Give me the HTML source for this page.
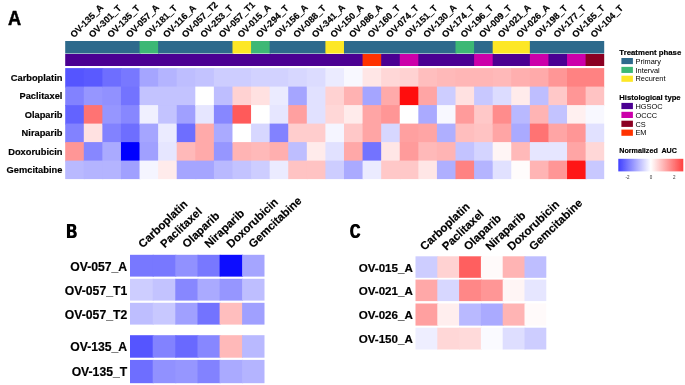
<!DOCTYPE html>
<html><head><meta charset="utf-8"><title>Figure</title>
<style>
html,body{margin:0;padding:0;background:#fff;}
body{width:685px;height:385px;overflow:hidden;}
svg{display:block;}
text{font-family:"Liberation Sans",Arial,sans-serif;fill:#000;}
.b{font-weight:bold;stroke:#000;stroke-width:0.18px;}
.bl{font-weight:bold;stroke:none;}
</style></head><body>
<svg width="685" height="385" viewBox="0 0 685 385">
<rect x="0" y="0" width="685" height="385" fill="#fff"/>
<defs><filter id="soft" x="0" y="0" width="685" height="385" filterUnits="userSpaceOnUse"><feGaussianBlur stdDeviation="0.38"/></filter></defs>
<defs><filter id="fat" x="-20%" y="-20%" width="140%" height="140%"><feOffset in="SourceGraphic" dx="0.8" dy="0" result="o"/><feMerge><feMergeNode in="SourceGraphic"/><feMergeNode in="o"/></feMerge></filter></defs>
<g filter="url(#soft)">
<rect x="-5" y="-5" width="695" height="395" fill="#fff"/>
<g>
<rect x="65.20" y="41.0" width="75.34" height="12.5" fill="#2d6a8c"/>
<rect x="139.54" y="41.0" width="19.59" height="12.5" fill="#3cb875"/>
<rect x="158.13" y="41.0" width="75.34" height="12.5" fill="#2d6a8c"/>
<rect x="232.48" y="41.0" width="19.59" height="12.5" fill="#fde725"/>
<rect x="251.06" y="41.0" width="19.59" height="12.5" fill="#3cb875"/>
<rect x="269.65" y="41.0" width="56.76" height="12.5" fill="#2d6a8c"/>
<rect x="325.41" y="41.0" width="19.59" height="12.5" fill="#fde725"/>
<rect x="343.99" y="41.0" width="112.52" height="12.5" fill="#2d6a8c"/>
<rect x="455.51" y="41.0" width="19.59" height="12.5" fill="#3cb875"/>
<rect x="474.10" y="41.0" width="19.59" height="12.5" fill="#2d6a8c"/>
<rect x="492.68" y="41.0" width="38.17" height="12.5" fill="#fde725"/>
<rect x="529.86" y="41.0" width="74.34" height="12.5" fill="#2d6a8c"/>
<rect x="65.20" y="54" width="298.38" height="12" fill="#4b0092"/>
<rect x="362.58" y="54" width="19.59" height="12" fill="#ff3300"/>
<rect x="381.17" y="54" width="19.59" height="12" fill="#4b0092"/>
<rect x="399.75" y="54" width="19.59" height="12" fill="#cc00aa"/>
<rect x="418.34" y="54" width="56.76" height="12" fill="#4b0092"/>
<rect x="474.10" y="54" width="19.59" height="12" fill="#cc00aa"/>
<rect x="492.68" y="54" width="38.17" height="12" fill="#4b0092"/>
<rect x="529.86" y="54" width="19.59" height="12" fill="#cc00aa"/>
<rect x="548.44" y="54" width="19.59" height="12" fill="#4b0092"/>
<rect x="567.03" y="54" width="19.59" height="12" fill="#cc00aa"/>
<rect x="585.61" y="54" width="18.59" height="12" fill="#8b0020"/>
<rect x="65.20" y="68.10" width="19.59" height="19.50" fill="#5555ff"/>
<rect x="65.20" y="86.60" width="19.59" height="19.50" fill="#8282ff"/>
<rect x="65.20" y="105.10" width="19.59" height="19.50" fill="#6464ff"/>
<rect x="65.20" y="123.60" width="19.59" height="19.50" fill="#8282ff"/>
<rect x="65.20" y="142.10" width="19.59" height="19.50" fill="#ff9696"/>
<rect x="65.20" y="160.60" width="19.59" height="18.50" fill="#b9b9ff"/>
<rect x="83.79" y="68.10" width="19.59" height="19.50" fill="#5a5aff"/>
<rect x="83.79" y="86.60" width="19.59" height="19.50" fill="#9696ff"/>
<rect x="83.79" y="105.10" width="19.59" height="19.50" fill="#ff7373"/>
<rect x="83.79" y="123.60" width="19.59" height="19.50" fill="#ffe1e1"/>
<rect x="83.79" y="142.10" width="19.59" height="19.50" fill="#8787ff"/>
<rect x="83.79" y="160.60" width="19.59" height="18.50" fill="#b4b4ff"/>
<rect x="102.37" y="68.10" width="19.59" height="19.50" fill="#6e6eff"/>
<rect x="102.37" y="86.60" width="19.59" height="19.50" fill="#9191ff"/>
<rect x="102.37" y="105.10" width="19.59" height="19.50" fill="#9696ff"/>
<rect x="102.37" y="123.60" width="19.59" height="19.50" fill="#8282ff"/>
<rect x="102.37" y="142.10" width="19.59" height="19.50" fill="#aaaaff"/>
<rect x="102.37" y="160.60" width="19.59" height="18.50" fill="#b4b4ff"/>
<rect x="120.96" y="68.10" width="19.59" height="19.50" fill="#7878ff"/>
<rect x="120.96" y="86.60" width="19.59" height="19.50" fill="#7373ff"/>
<rect x="120.96" y="105.10" width="19.59" height="19.50" fill="#8787ff"/>
<rect x="120.96" y="123.60" width="19.59" height="19.50" fill="#6e6eff"/>
<rect x="120.96" y="142.10" width="19.59" height="19.50" fill="#0505ff"/>
<rect x="120.96" y="160.60" width="19.59" height="18.50" fill="#a0a0ff"/>
<rect x="139.54" y="68.10" width="19.59" height="19.50" fill="#a5a5ff"/>
<rect x="139.54" y="86.60" width="19.59" height="19.50" fill="#c3c3ff"/>
<rect x="139.54" y="105.10" width="19.59" height="19.50" fill="#f0f0ff"/>
<rect x="139.54" y="123.60" width="19.59" height="19.50" fill="#a5a5ff"/>
<rect x="139.54" y="142.10" width="19.59" height="19.50" fill="#a0a0ff"/>
<rect x="139.54" y="160.60" width="19.59" height="18.50" fill="#f5f5ff"/>
<rect x="158.13" y="68.10" width="19.59" height="19.50" fill="#b4b4ff"/>
<rect x="158.13" y="86.60" width="19.59" height="19.50" fill="#c3c3ff"/>
<rect x="158.13" y="105.10" width="19.59" height="19.50" fill="#c3c3ff"/>
<rect x="158.13" y="123.60" width="19.59" height="19.50" fill="#ebebff"/>
<rect x="158.13" y="142.10" width="19.59" height="19.50" fill="#e6e6ff"/>
<rect x="158.13" y="160.60" width="19.59" height="18.50" fill="#ffebeb"/>
<rect x="176.72" y="68.10" width="19.59" height="19.50" fill="#bebeff"/>
<rect x="176.72" y="86.60" width="19.59" height="19.50" fill="#c3c3ff"/>
<rect x="176.72" y="105.10" width="19.59" height="19.50" fill="#a0a0ff"/>
<rect x="176.72" y="123.60" width="19.59" height="19.50" fill="#6e6eff"/>
<rect x="176.72" y="142.10" width="19.59" height="19.50" fill="#ffb9b9"/>
<rect x="176.72" y="160.60" width="19.59" height="18.50" fill="#a5a5ff"/>
<rect x="195.30" y="68.10" width="19.59" height="19.50" fill="#c3c3ff"/>
<rect x="195.30" y="86.60" width="19.59" height="19.50" fill="#ffffff"/>
<rect x="195.30" y="105.10" width="19.59" height="19.50" fill="#e6e6ff"/>
<rect x="195.30" y="123.60" width="19.59" height="19.50" fill="#ffaaaa"/>
<rect x="195.30" y="142.10" width="19.59" height="19.50" fill="#ffaaaa"/>
<rect x="195.30" y="160.60" width="19.59" height="18.50" fill="#a5a5ff"/>
<rect x="213.89" y="68.10" width="19.59" height="19.50" fill="#cdcdff"/>
<rect x="213.89" y="86.60" width="19.59" height="19.50" fill="#bebeff"/>
<rect x="213.89" y="105.10" width="19.59" height="19.50" fill="#8787ff"/>
<rect x="213.89" y="123.60" width="19.59" height="19.50" fill="#aaaaff"/>
<rect x="213.89" y="142.10" width="19.59" height="19.50" fill="#9696ff"/>
<rect x="213.89" y="160.60" width="19.59" height="18.50" fill="#b9b9ff"/>
<rect x="232.48" y="68.10" width="19.59" height="19.50" fill="#cdcdff"/>
<rect x="232.48" y="86.60" width="19.59" height="19.50" fill="#ffd2d2"/>
<rect x="232.48" y="105.10" width="19.59" height="19.50" fill="#ff5a5a"/>
<rect x="232.48" y="123.60" width="19.59" height="19.50" fill="#ffffff"/>
<rect x="232.48" y="142.10" width="19.59" height="19.50" fill="#ffb4b4"/>
<rect x="232.48" y="160.60" width="19.59" height="18.50" fill="#c3c3ff"/>
<rect x="251.06" y="68.10" width="19.59" height="19.50" fill="#d2d2ff"/>
<rect x="251.06" y="86.60" width="19.59" height="19.50" fill="#ffe1e1"/>
<rect x="251.06" y="105.10" width="19.59" height="19.50" fill="#ffffff"/>
<rect x="251.06" y="123.60" width="19.59" height="19.50" fill="#d7d7ff"/>
<rect x="251.06" y="142.10" width="19.59" height="19.50" fill="#ffb9b9"/>
<rect x="251.06" y="160.60" width="19.59" height="18.50" fill="#cdcdff"/>
<rect x="269.65" y="68.10" width="19.59" height="19.50" fill="#d2d2ff"/>
<rect x="269.65" y="86.60" width="19.59" height="19.50" fill="#ebebff"/>
<rect x="269.65" y="105.10" width="19.59" height="19.50" fill="#e6e6ff"/>
<rect x="269.65" y="123.60" width="19.59" height="19.50" fill="#8282ff"/>
<rect x="269.65" y="142.10" width="19.59" height="19.50" fill="#ffafaf"/>
<rect x="269.65" y="160.60" width="19.59" height="18.50" fill="#ebebff"/>
<rect x="288.23" y="68.10" width="19.59" height="19.50" fill="#d7d7ff"/>
<rect x="288.23" y="86.60" width="19.59" height="19.50" fill="#a5a5ff"/>
<rect x="288.23" y="105.10" width="19.59" height="19.50" fill="#ffa0a0"/>
<rect x="288.23" y="123.60" width="19.59" height="19.50" fill="#ffcdcd"/>
<rect x="288.23" y="142.10" width="19.59" height="19.50" fill="#bebeff"/>
<rect x="288.23" y="160.60" width="19.59" height="18.50" fill="#ffc3c3"/>
<rect x="306.82" y="68.10" width="19.59" height="19.50" fill="#dcdcff"/>
<rect x="306.82" y="86.60" width="19.59" height="19.50" fill="#e1e1ff"/>
<rect x="306.82" y="105.10" width="19.59" height="19.50" fill="#e1e1ff"/>
<rect x="306.82" y="123.60" width="19.59" height="19.50" fill="#ffcdcd"/>
<rect x="306.82" y="142.10" width="19.59" height="19.50" fill="#ffebeb"/>
<rect x="306.82" y="160.60" width="19.59" height="18.50" fill="#ffc3c3"/>
<rect x="325.41" y="68.10" width="19.59" height="19.50" fill="#ebebff"/>
<rect x="325.41" y="86.60" width="19.59" height="19.50" fill="#ffd2d2"/>
<rect x="325.41" y="105.10" width="19.59" height="19.50" fill="#ffd7d7"/>
<rect x="325.41" y="123.60" width="19.59" height="19.50" fill="#f5f5ff"/>
<rect x="325.41" y="142.10" width="19.59" height="19.50" fill="#e1e1ff"/>
<rect x="325.41" y="160.60" width="19.59" height="18.50" fill="#cdcdff"/>
<rect x="343.99" y="68.10" width="19.59" height="19.50" fill="#f8f8ff"/>
<rect x="343.99" y="86.60" width="19.59" height="19.50" fill="#ffb2b2"/>
<rect x="343.99" y="105.10" width="19.59" height="19.50" fill="#ffebeb"/>
<rect x="343.99" y="123.60" width="19.59" height="19.50" fill="#ffc8c8"/>
<rect x="343.99" y="142.10" width="19.59" height="19.50" fill="#ffa8a8"/>
<rect x="343.99" y="160.60" width="19.59" height="18.50" fill="#aaaaff"/>
<rect x="362.58" y="68.10" width="19.59" height="19.50" fill="#ffe6e6"/>
<rect x="362.58" y="86.60" width="19.59" height="19.50" fill="#a5a5ff"/>
<rect x="362.58" y="105.10" width="19.59" height="19.50" fill="#ffa5a5"/>
<rect x="362.58" y="123.60" width="19.59" height="19.50" fill="#ffa5a5"/>
<rect x="362.58" y="142.10" width="19.59" height="19.50" fill="#7373ff"/>
<rect x="362.58" y="160.60" width="19.59" height="18.50" fill="#ebebff"/>
<rect x="381.17" y="68.10" width="19.59" height="19.50" fill="#ffd7d7"/>
<rect x="381.17" y="86.60" width="19.59" height="19.50" fill="#ffaaaa"/>
<rect x="381.17" y="105.10" width="19.59" height="19.50" fill="#ff9696"/>
<rect x="381.17" y="123.60" width="19.59" height="19.50" fill="#d7d7ff"/>
<rect x="381.17" y="142.10" width="19.59" height="19.50" fill="#ffe6e6"/>
<rect x="381.17" y="160.60" width="19.59" height="18.50" fill="#ffc8c8"/>
<rect x="399.75" y="68.10" width="19.59" height="19.50" fill="#ffd2d2"/>
<rect x="399.75" y="86.60" width="19.59" height="19.50" fill="#ff0f0f"/>
<rect x="399.75" y="105.10" width="19.59" height="19.50" fill="#ffffff"/>
<rect x="399.75" y="123.60" width="19.59" height="19.50" fill="#ffa0a0"/>
<rect x="399.75" y="142.10" width="19.59" height="19.50" fill="#ff9b9b"/>
<rect x="399.75" y="160.60" width="19.59" height="18.50" fill="#ffc8c8"/>
<rect x="418.34" y="68.10" width="19.59" height="19.50" fill="#ffbebe"/>
<rect x="418.34" y="86.60" width="19.59" height="19.50" fill="#ffa5a5"/>
<rect x="418.34" y="105.10" width="19.59" height="19.50" fill="#aaaaff"/>
<rect x="418.34" y="123.60" width="19.59" height="19.50" fill="#ffa5a5"/>
<rect x="418.34" y="142.10" width="19.59" height="19.50" fill="#ffb9b9"/>
<rect x="418.34" y="160.60" width="19.59" height="18.50" fill="#ffe6e6"/>
<rect x="436.92" y="68.10" width="19.59" height="19.50" fill="#ffb9b9"/>
<rect x="436.92" y="86.60" width="19.59" height="19.50" fill="#cdcdff"/>
<rect x="436.92" y="105.10" width="19.59" height="19.50" fill="#f8f8ff"/>
<rect x="436.92" y="123.60" width="19.59" height="19.50" fill="#afafff"/>
<rect x="436.92" y="142.10" width="19.59" height="19.50" fill="#ffb4b4"/>
<rect x="436.92" y="160.60" width="19.59" height="18.50" fill="#afafff"/>
<rect x="455.51" y="68.10" width="19.59" height="19.50" fill="#ffb6b6"/>
<rect x="455.51" y="86.60" width="19.59" height="19.50" fill="#ffe1e1"/>
<rect x="455.51" y="105.10" width="19.59" height="19.50" fill="#ff9b9b"/>
<rect x="455.51" y="123.60" width="19.59" height="19.50" fill="#ffbebe"/>
<rect x="455.51" y="142.10" width="19.59" height="19.50" fill="#c3c3ff"/>
<rect x="455.51" y="160.60" width="19.59" height="18.50" fill="#ff8282"/>
<rect x="474.10" y="68.10" width="19.59" height="19.50" fill="#ffb6b6"/>
<rect x="474.10" y="86.60" width="19.59" height="19.50" fill="#c8c8ff"/>
<rect x="474.10" y="105.10" width="19.59" height="19.50" fill="#ffc8c8"/>
<rect x="474.10" y="123.60" width="19.59" height="19.50" fill="#ffc3c3"/>
<rect x="474.10" y="142.10" width="19.59" height="19.50" fill="#d4d4ff"/>
<rect x="474.10" y="160.60" width="19.59" height="18.50" fill="#b4b4ff"/>
<rect x="492.68" y="68.10" width="19.59" height="19.50" fill="#ffb9b9"/>
<rect x="492.68" y="86.60" width="19.59" height="19.50" fill="#dcdcff"/>
<rect x="492.68" y="105.10" width="19.59" height="19.50" fill="#ff8c8c"/>
<rect x="492.68" y="123.60" width="19.59" height="19.50" fill="#ffa5a5"/>
<rect x="492.68" y="142.10" width="19.59" height="19.50" fill="#fff5f5"/>
<rect x="492.68" y="160.60" width="19.59" height="18.50" fill="#e1e1ff"/>
<rect x="511.27" y="68.10" width="19.59" height="19.50" fill="#ffafaf"/>
<rect x="511.27" y="86.60" width="19.59" height="19.50" fill="#ffebeb"/>
<rect x="511.27" y="105.10" width="19.59" height="19.50" fill="#b9b9ff"/>
<rect x="511.27" y="123.60" width="19.59" height="19.50" fill="#aaaaff"/>
<rect x="511.27" y="142.10" width="19.59" height="19.50" fill="#ffb9b9"/>
<rect x="511.27" y="160.60" width="19.59" height="18.50" fill="#fffcfc"/>
<rect x="529.86" y="68.10" width="19.59" height="19.50" fill="#ffaaaa"/>
<rect x="529.86" y="86.60" width="19.59" height="19.50" fill="#bebeff"/>
<rect x="529.86" y="105.10" width="19.59" height="19.50" fill="#ffb4b4"/>
<rect x="529.86" y="123.60" width="19.59" height="19.50" fill="#ff7373"/>
<rect x="529.86" y="142.10" width="19.59" height="19.50" fill="#e6e6ff"/>
<rect x="529.86" y="160.60" width="19.59" height="18.50" fill="#ffb4b4"/>
<rect x="548.44" y="68.10" width="19.59" height="19.50" fill="#ff9696"/>
<rect x="548.44" y="86.60" width="19.59" height="19.50" fill="#ffc8c8"/>
<rect x="548.44" y="105.10" width="19.59" height="19.50" fill="#c3c3ff"/>
<rect x="548.44" y="123.60" width="19.59" height="19.50" fill="#ffa5a5"/>
<rect x="548.44" y="142.10" width="19.59" height="19.50" fill="#e6e6ff"/>
<rect x="548.44" y="160.60" width="19.59" height="18.50" fill="#ff9696"/>
<rect x="567.03" y="68.10" width="19.59" height="19.50" fill="#ff8282"/>
<rect x="567.03" y="86.60" width="19.59" height="19.50" fill="#ff9696"/>
<rect x="567.03" y="105.10" width="19.59" height="19.50" fill="#fff0f0"/>
<rect x="567.03" y="123.60" width="19.59" height="19.50" fill="#ff9696"/>
<rect x="567.03" y="142.10" width="19.59" height="19.50" fill="#ffa5a5"/>
<rect x="567.03" y="160.60" width="19.59" height="18.50" fill="#ff1919"/>
<rect x="585.61" y="68.10" width="18.59" height="19.50" fill="#ff8282"/>
<rect x="585.61" y="86.60" width="18.59" height="19.50" fill="#ffc3c3"/>
<rect x="585.61" y="105.10" width="18.59" height="19.50" fill="#f8f8ff"/>
<rect x="585.61" y="123.60" width="18.59" height="19.50" fill="#e1e1ff"/>
<rect x="585.61" y="142.10" width="18.59" height="19.50" fill="#ffd7d7"/>
<rect x="585.61" y="160.60" width="18.59" height="18.50" fill="#c8c8ff"/>
</g>
<text class="bl" style="stroke:#000;stroke-width:0.5px" font-size="19.8" transform="translate(7.9,24.8) scale(0.92,1)">A</text>
<text class="b" font-size="9.9" text-anchor="end" transform="translate(62.4,80.90) scale(0.94,1)">Carboplatin</text>
<text class="b" font-size="9.9" text-anchor="end" transform="translate(62.4,99.40) scale(0.94,1)">Paclitaxel</text>
<text class="b" font-size="9.9" text-anchor="end" transform="translate(62.4,117.90) scale(0.94,1)">Olaparib</text>
<text class="b" font-size="9.9" text-anchor="end" transform="translate(62.4,136.40) scale(0.94,1)">Niraparib</text>
<text class="b" font-size="9.9" text-anchor="end" transform="translate(62.4,154.90) scale(0.94,1)">Doxorubicin</text>
<text class="b" font-size="9.9" text-anchor="end" transform="translate(62.4,173.40) scale(0.94,1)">Gemcitabine</text>
<text class="b" font-size="9.15" transform="translate(73.89,38.30) rotate(-45)">OV-135_A</text>
<text class="b" font-size="9.15" transform="translate(92.48,38.30) rotate(-45)">OV-301_T</text>
<text class="b" font-size="9.15" transform="translate(111.07,38.30) rotate(-45)">OV-135_T</text>
<text class="b" font-size="9.15" transform="translate(129.65,38.30) rotate(-45)">OV-057_A</text>
<text class="b" font-size="9.15" transform="translate(148.24,38.30) rotate(-45)">OV-181_T</text>
<text class="b" font-size="9.15" transform="translate(166.82,38.30) rotate(-45)">OV-116_A</text>
<text class="b" font-size="9.15" transform="translate(185.41,38.30) rotate(-45)">OV-057_T2</text>
<text class="b" font-size="9.15" transform="translate(204.00,38.30) rotate(-45)">OV-253_T</text>
<text class="b" font-size="9.15" transform="translate(222.58,38.30) rotate(-45)">OV-057_T1</text>
<text class="b" font-size="9.15" transform="translate(241.17,38.30) rotate(-45)">OV-015_A</text>
<text class="b" font-size="9.15" transform="translate(259.76,38.30) rotate(-45)">OV-294_T</text>
<text class="b" font-size="9.15" transform="translate(278.34,38.30) rotate(-45)">OV-156_A</text>
<text class="b" font-size="9.15" transform="translate(296.93,38.30) rotate(-45)">OV-088_T</text>
<text class="b" font-size="9.15" transform="translate(315.51,38.30) rotate(-45)">OV-341_A</text>
<text class="b" font-size="9.15" transform="translate(334.10,38.30) rotate(-45)">OV-150_A</text>
<text class="b" font-size="9.15" transform="translate(352.69,38.30) rotate(-45)">OV-086_A</text>
<text class="b" font-size="9.15" transform="translate(371.27,38.30) rotate(-45)">OV-160_T</text>
<text class="b" font-size="9.15" transform="translate(389.86,38.30) rotate(-45)">OV-074_T</text>
<text class="b" font-size="9.15" transform="translate(408.44,38.30) rotate(-45)">OV-151_T</text>
<text class="b" font-size="9.15" transform="translate(427.03,38.30) rotate(-45)">OV-130_A</text>
<text class="b" font-size="9.15" transform="translate(445.62,38.30) rotate(-45)">OV-174_T</text>
<text class="b" font-size="9.15" transform="translate(464.20,38.30) rotate(-45)">OV-196_T</text>
<text class="b" font-size="9.15" transform="translate(482.79,38.30) rotate(-45)">OV-009_T</text>
<text class="b" font-size="9.15" transform="translate(501.38,38.30) rotate(-45)">OV-021_A</text>
<text class="b" font-size="9.15" transform="translate(519.96,38.30) rotate(-45)">OV-026_A</text>
<text class="b" font-size="9.15" transform="translate(538.55,38.30) rotate(-45)">OV-198_T</text>
<text class="b" font-size="9.15" transform="translate(557.13,38.30) rotate(-45)">OV-177_T</text>
<text class="b" font-size="9.15" transform="translate(575.72,38.30) rotate(-45)">OV-165_T</text>
<text class="b" font-size="9.15" transform="translate(594.31,38.30) rotate(-45)">OV-104_T</text>
<text class="b" x="619.3" y="54.5" font-size="8.1" textLength="62" lengthAdjust="spacingAndGlyphs">Treatment phase</text>
<rect x="621.4" y="58.00" width="11.5" height="6.1" fill="#2d6a8c"/>
<text x="635.5" y="63.75" font-size="7.4">Primary</text>
<rect x="621.4" y="66.85" width="11.5" height="6.1" fill="#3cb875"/>
<text x="635.5" y="72.60" font-size="7.4">Interval</text>
<rect x="621.4" y="75.70" width="11.5" height="6.1" fill="#fde725"/>
<text x="635.5" y="81.45" font-size="7.4">Recurent</text>
<text class="b" x="619.3" y="99.7" font-size="8.1" textLength="61.3" lengthAdjust="spacingAndGlyphs">Histological type</text>
<rect x="621.4" y="102.90" width="11.5" height="6.2" fill="#4b0092"/>
<text x="635.4" y="108.70" font-size="7.4">HGSOC</text>
<rect x="621.4" y="111.80" width="11.5" height="6.2" fill="#cc00aa"/>
<text x="635.4" y="117.60" font-size="7.4">OCCC</text>
<rect x="621.4" y="120.70" width="11.5" height="6.2" fill="#8b0020"/>
<text x="635.4" y="126.50" font-size="7.4">CS</text>
<rect x="621.4" y="129.60" width="11.5" height="6.2" fill="#ff3300"/>
<text x="635.4" y="135.40" font-size="7.4">EM</text>
<text class="b" x="619.3" y="153.4" font-size="8.0" xml:space="preserve" textLength="57.6" lengthAdjust="spacingAndGlyphs">Normalized  AUC</text>
<defs><linearGradient id="g" x1="0" x2="1" y1="0" y2="0"><stop offset="0" stop-color="#4040ff"/><stop offset="0.5" stop-color="#ffffff"/><stop offset="1" stop-color="#ff4040"/></linearGradient></defs>
<rect x="618.3" y="158.8" width="65" height="12.6" fill="url(#g)"/>
<text x="627.6" y="178.5" font-size="4.5" fill="#333" style="fill:#333" text-anchor="middle">-2</text>
<text x="651.0" y="178.5" font-size="4.5" fill="#333" style="fill:#333" text-anchor="middle">0</text>
<text x="674.2" y="178.5" font-size="4.5" fill="#333" style="fill:#333" text-anchor="middle">2</text>
<text class="bl" filter="url(#fat)" font-size="19.4" transform="translate(66.1,237.5) scale(0.75,1)">B</text>
<g>
<rect x="130.00" y="254.80" width="23.70" height="21.80" fill="#7878ff"/>
<rect x="152.70" y="254.80" width="23.60" height="21.80" fill="#7878ff"/>
<rect x="175.30" y="254.80" width="23.20" height="21.80" fill="#9191ff"/>
<rect x="197.50" y="254.80" width="23.10" height="21.80" fill="#7878ff"/>
<rect x="219.60" y="254.80" width="23.50" height="21.80" fill="#0a0aff"/>
<rect x="242.10" y="254.80" width="22.40" height="21.80" fill="#a5a5ff"/>
<rect x="130.00" y="278.80" width="23.70" height="21.80" fill="#cdcdff"/>
<rect x="152.70" y="278.80" width="23.60" height="21.80" fill="#c3c3ff"/>
<rect x="175.30" y="278.80" width="23.20" height="21.80" fill="#8787ff"/>
<rect x="197.50" y="278.80" width="23.10" height="21.80" fill="#aaaaff"/>
<rect x="219.60" y="278.80" width="23.50" height="21.80" fill="#9696ff"/>
<rect x="242.10" y="278.80" width="22.40" height="21.80" fill="#bebeff"/>
<rect x="130.00" y="302.80" width="23.70" height="21.80" fill="#bebeff"/>
<rect x="152.70" y="302.80" width="23.60" height="21.80" fill="#c8c8ff"/>
<rect x="175.30" y="302.80" width="23.20" height="21.80" fill="#a0a0ff"/>
<rect x="197.50" y="302.80" width="23.10" height="21.80" fill="#7373ff"/>
<rect x="219.60" y="302.80" width="23.50" height="21.80" fill="#ffbebe"/>
<rect x="242.10" y="302.80" width="22.40" height="21.80" fill="#a0a0ff"/>
<rect x="130.00" y="335.20" width="23.70" height="22.50" fill="#5555ff"/>
<rect x="152.70" y="335.20" width="23.60" height="22.50" fill="#8282ff"/>
<rect x="175.30" y="335.20" width="23.20" height="22.50" fill="#6969ff"/>
<rect x="197.50" y="335.20" width="23.10" height="22.50" fill="#8787ff"/>
<rect x="219.60" y="335.20" width="23.50" height="22.50" fill="#ffb9b9"/>
<rect x="242.10" y="335.20" width="22.40" height="22.50" fill="#b9b9ff"/>
<rect x="130.00" y="359.90" width="23.70" height="23.30" fill="#6e6eff"/>
<rect x="152.70" y="359.90" width="23.60" height="23.30" fill="#9191ff"/>
<rect x="175.30" y="359.90" width="23.20" height="23.30" fill="#9696ff"/>
<rect x="197.50" y="359.90" width="23.10" height="23.30" fill="#8282ff"/>
<rect x="219.60" y="359.90" width="23.50" height="23.30" fill="#aaaaff"/>
<rect x="242.10" y="359.90" width="22.40" height="23.30" fill="#b4b4ff"/>
</g>
<text class="b" x="127.2" y="270.50" font-size="12.2" text-anchor="end">OV-057_A</text>
<text class="b" x="127.2" y="294.50" font-size="12.2" text-anchor="end">OV-057_T1</text>
<text class="b" x="127.2" y="318.50" font-size="12.2" text-anchor="end">OV-057_T2</text>
<text class="b" x="127.2" y="351.25" font-size="12.2" text-anchor="end">OV-135_A</text>
<text class="b" x="127.2" y="376.35" font-size="12.2" text-anchor="end">OV-135_T</text>
<text class="b" font-size="11.35" transform="translate(142.75,248.50) rotate(-43.6)">Carboplatin</text>
<text class="b" font-size="11.35" transform="translate(164.80,248.50) rotate(-43.6)">Paclitaxel</text>
<text class="b" font-size="11.35" transform="translate(186.85,248.50) rotate(-43.6)">Olaparib</text>
<text class="b" font-size="11.35" transform="translate(208.90,248.50) rotate(-43.6)">Niraparib</text>
<text class="b" font-size="11.35" transform="translate(230.95,248.50) rotate(-43.6)">Doxorubicin</text>
<text class="b" font-size="11.35" transform="translate(253.00,248.50) rotate(-43.6)">Gemcitabine</text>
<text class="bl" filter="url(#fat)" font-size="20" transform="translate(349.6,238.3) scale(0.715,1)">C</text>
<g>
<rect x="415.50" y="256.30" width="22.80" height="21.50" fill="#cdcdff"/>
<rect x="437.30" y="256.30" width="22.80" height="21.50" fill="#ffd2d2"/>
<rect x="459.10" y="256.30" width="22.80" height="21.50" fill="#ff5f5f"/>
<rect x="480.90" y="256.30" width="22.80" height="21.50" fill="#fffafa"/>
<rect x="502.70" y="256.30" width="22.80" height="21.50" fill="#ffb4b4"/>
<rect x="524.50" y="256.30" width="21.80" height="21.50" fill="#bebeff"/>
<rect x="415.50" y="279.60" width="22.80" height="21.50" fill="#ffa8a8"/>
<rect x="437.30" y="279.60" width="22.80" height="21.50" fill="#d7d7ff"/>
<rect x="459.10" y="279.60" width="22.80" height="21.50" fill="#ff8787"/>
<rect x="480.90" y="279.60" width="22.80" height="21.50" fill="#ff9696"/>
<rect x="502.70" y="279.60" width="22.80" height="21.50" fill="#fff5f5"/>
<rect x="524.50" y="279.60" width="21.80" height="21.50" fill="#e6e6ff"/>
<rect x="415.50" y="303.50" width="22.80" height="22.10" fill="#ffa0a0"/>
<rect x="437.30" y="303.50" width="22.80" height="22.10" fill="#ffeeee"/>
<rect x="459.10" y="303.50" width="22.80" height="22.10" fill="#b9b9ff"/>
<rect x="480.90" y="303.50" width="22.80" height="22.10" fill="#aaaaff"/>
<rect x="502.70" y="303.50" width="22.80" height="22.10" fill="#ffb4b4"/>
<rect x="524.50" y="303.50" width="21.80" height="22.10" fill="#fffafa"/>
<rect x="415.50" y="327.70" width="22.80" height="21.80" fill="#eeeeff"/>
<rect x="437.30" y="327.70" width="22.80" height="21.80" fill="#ffd7d7"/>
<rect x="459.10" y="327.70" width="22.80" height="21.80" fill="#ffdada"/>
<rect x="480.90" y="327.70" width="22.80" height="21.80" fill="#fafaff"/>
<rect x="502.70" y="327.70" width="22.80" height="21.80" fill="#dedeff"/>
<rect x="524.50" y="327.70" width="21.80" height="21.80" fill="#cdcdff"/>
</g>
<text class="b" x="412.8" y="271.75" font-size="11.6" text-anchor="end">OV-015_A</text>
<text class="b" x="412.8" y="295.05" font-size="11.6" text-anchor="end">OV-021_A</text>
<text class="b" x="412.8" y="319.25" font-size="11.6" text-anchor="end">OV-026_A</text>
<text class="b" x="412.8" y="343.30" font-size="11.6" text-anchor="end">OV-150_A</text>
<text class="b" font-size="11.4" transform="translate(424.60,251.00) rotate(-43.5)">Carboplatin</text>
<text class="b" font-size="11.4" transform="translate(446.40,251.00) rotate(-43.5)">Paclitaxel</text>
<text class="b" font-size="11.4" transform="translate(468.20,251.00) rotate(-43.5)">Olaparib</text>
<text class="b" font-size="11.4" transform="translate(490.00,251.00) rotate(-43.5)">Niraparib</text>
<text class="b" font-size="11.4" transform="translate(511.80,251.00) rotate(-43.5)">Doxorubicin</text>
<text class="b" font-size="11.4" transform="translate(533.60,251.00) rotate(-43.5)">Gemcitabine</text>
</g>
</svg></body></html>
